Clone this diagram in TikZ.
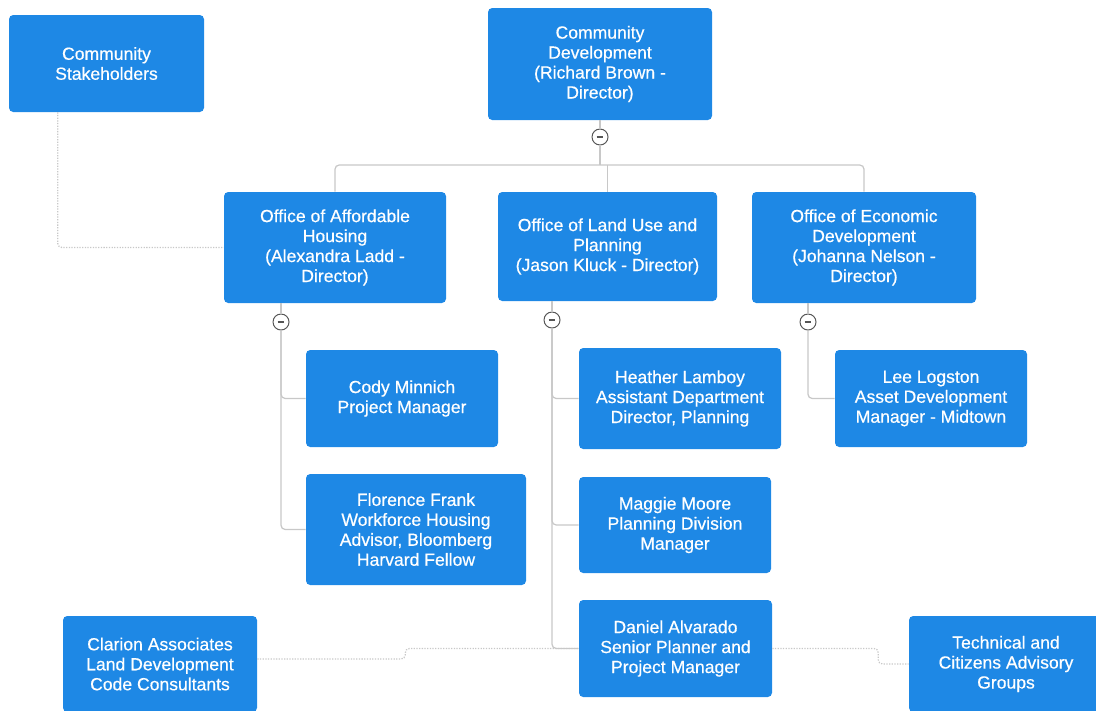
\documentclass[tikz,border=0pt]{standalone}
\usepackage{fontspec}
\setmainfont{Liberation Sans}
\newfontfamily\boxfont{Liberation Sans}[FakeBold=0.5]
\usetikzlibrary{positioning, calc}
\definecolor{nodeblue}{RGB}{30,136,229}
\definecolor{treegray}{RGB}{200,200,200}
\definecolor{knobgray}{RGB}{85,85,85}

\tikzset{
  bw/.style={minimum width=#1*0.025cm},
  bh/.style={minimum height=#1*0.025cm},
  orgbox/.style={fill=nodeblue, text=white, rounded corners=3pt, align=center,
    inner sep=2pt, font=\boxfont\fontsize{12.5}{14.2}\selectfont},
  tree/.style={draw=treegray, line width=0.9pt, rounded corners=3pt},
  link/.style={draw=treegray, line width=0.9pt, densely dotted, rounded corners=3pt},
  knob/.style={circle, draw=knobgray, fill=white, line width=0.7pt,
    minimum size=0.4cm, inner sep=0pt,
    path picture={\draw[knobgray, line width=1.1pt]
      ([xshift=-2.4pt]path picture bounding box.center) --
      ([xshift=2.4pt]path picture bounding box.center);}}
}

\begin{document}
\begin{tikzpicture}[x=0.025cm, y=-0.025cm]
  \clip (0,0) rectangle (1096,710);

  % top level
  \node[orgbox, bw=195, bh=97] (stake) at (106.5,63.5) {Community\\Stakeholders};
  \node[orgbox, bw=224, bh=112] (cdev) at (600,64) {Community\\Development\\(Richard Brown -\\Director)};
  \node[knob] (k0) at (600,137) {};

  % offices
  \node[orgbox, bw=222, bh=111] (afford) at (335,247.5) {Office of Affordable\\Housing\\(Alexandra Ladd -\\Director)};
  \node[orgbox, bw=219, bh=109] (landuse) at (607.5,246.5) {Office of Land Use and\\Planning\\(Jason Kluck - Director)};
  \node[orgbox, bw=224, bh=111] (econ) at (864,247.5) {Office of Economic\\Development\\(Johanna Nelson -\\Director)};
  \node[knob] (k1) at (281,322) {};
  \node[knob] (k2) at (552,320) {};
  \node[knob] (k3) at (808,322) {};

  % staff
  \node[orgbox, bw=192, bh=97] (cody) at (402,398.5) {Cody Minnich\\Project Manager};
  \node[orgbox, bw=220, bh=111] (florence) at (416,529.5) {Florence Frank\\Workforce Housing\\Advisor, Bloomberg\\Harvard Fellow};
  \node[orgbox, bw=202, bh=101] (heather) at (680,398.5) {Heather Lamboy\\Assistant Department\\Director, Planning};
  \node[orgbox, bw=192, bh=96] (maggie) at (675,525) {Maggie Moore\\Planning Division\\Manager};
  \node[orgbox, bw=193, bh=97] (daniel) at (675.5,648.5) {Daniel Alvarado\\Senior Planner and\\Project Manager};
  \node[orgbox, bw=192, bh=97] (lee) at (931,398.5) {Lee Logston\\Asset Development\\Manager - Midtown};

  % outside partners
  \node[orgbox, bw=194, bh=96] (clarion) at (160,664) {Clarion Associates\\Land Development\\Code Consultants};
  \node[orgbox, bw=194, bh=96] (tech) at (1006,664) {Technical and\\Citizens Advisory\\Groups};

  % reporting lines
  \coordinate (bar) at (600,165);
  \draw[tree] (cdev.south) -- (k0.north);
  \draw[tree] (k0.south) -- (bar);
  \draw[tree] (afford.north) |- (bar) -| (econ.north);
  \draw[tree] (landuse.north) -- (landuse.north |- bar);

  \draw[tree] (k1.north) -- (k1.north |- afford.south);
  \draw[tree] (k1.south) |- (cody.west);
  \draw[tree] (k1.south) |- (florence.west);

  \draw[tree] (k2.north) -- (k2.north |- landuse.south);
  \draw[tree] (k2.south) |- (heather.west);
  \draw[tree] (k2.south) |- (maggie.west);
  \draw[tree] (k2.south) |- (daniel.west);

  \draw[tree] (k3.north) -- (k3.north |- econ.south);
  \draw[tree] (k3.south) |- (lee.west);

  % dotted links
  \draw[link] ($(stake.south west)+(49,0)$) |- (afford.west);
  \draw[link] ($(clarion.east)+(0,-5)$) -- ++(148,0) |- (daniel.west);
  \draw[link] (daniel.east) -- ++(106,0) |- (tech.west);
\end{tikzpicture}
\end{document}
